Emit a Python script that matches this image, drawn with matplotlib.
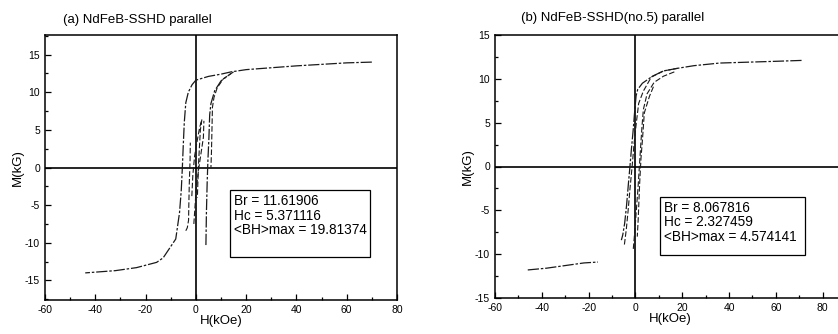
import matplotlib
matplotlib.use("Agg")
import matplotlib.pyplot as plt
from matplotlib.patches import Rectangle
from matplotlib.ticker import MultipleLocator

plt.rcParams['font.family'] = ['Liberation Sans', 'DejaVu Sans']
plt.rcParams['axes.unicode_minus'] = False

# ---------------- Data: panel (a) ----------------
a_title = "(a) NdFeB-SSHD parallel"
a_desc_H = [70, 60, 40, 20, 14, 10, 5, 0, -1.5, -3, -4, -4.6, -5.0, -5.37, -5.8, -6.5, -8, -10.8, -13, -15.6, -23.6, -32, -44]
a_desc_M = [14.0, 13.9, 13.5, 13.0, 12.7, 12.4, 12.1, 11.6, 11.0, 10.0, 8.6, 6.0, 3.0, 0.0, -3.0, -6.0, -9.5, -10.9, -12.0, -12.6, -13.3, -13.7, -14.0]
a_asc_H = [4.0, 4.2, 4.5, 4.8, 5.2, 5.5, 6.0, 7.5, 10, 14]
a_asc_M = [-10.3, -6.0, -2.0, 1.0, 4.0, 7.0, 8.5, 10.2, 11.5, 12.5]
a_loop1_H = [15, 11, 8.5, 7.2, 6.6, 6.4, 6.2, 6.0]
a_loop1_M = [12.7, 11.8, 10.6, 9.3, 8.0, 5.0, 2.0, 0.0]
a_loop2_H = [-1.6, -1.2, -0.5, 0.5, 1.5, 2.4, 1.8, 1.3, 1.0, 0.6]
a_loop2_M = [-3.8, -1.0, 1.5, 3.5, 5.3, 6.4, 5.0, 2.0, 0.0, -4.0]
a_loop3_H = [-4.0, -3.4, -2.9, -2.8, -2.6, -2.3, -2.2]
a_loop3_M = [-8.4, -8.0, -7.0, -5.0, -2.0, 1.0, 3.3]
a_loop4_H = [-0.8, -0.5, 0.1, 1.2, 3.0, 3.2]
a_loop4_M = [-7.5, -6.0, -3.0, 0.0, 4.0, 6.2]
a_text = "Br = 11.61906\nHc = 5.371116\n<BH>max = 19.81374"

# ---------------- Data: panel (b) ----------------
b_title = "(b) NdFeB-SSHD(no.5) parallel"
b_desc_H = [71, 60, 48, 36, 25, 18, 12, 7.3, 3.0, 1.0, 0.3, -0.4, -1.0, -1.7, -2.33, -3.0, -3.8, -4.6, -5.4, -6.0]
b_desc_M = [12.1, 12.0, 11.9, 11.8, 11.5, 11.2, 10.9, 10.3, 9.5, 8.8, 8.07, 6.0, 4.0, 2.0, 0.0, -2.0, -4.5, -6.5, -7.8, -8.4]
b_low_H = [-46, -38, -30, -22, -16]
b_low_M = [-11.8, -11.6, -11.3, -11.0, -10.9]
b_asc1_H = [-0.9, -0.3, 0.4, 1.1, 1.7, 2.3, 2.8, 3.4, 5.0, 8.0, 12.0, 16.7]
b_asc1_M = [-9.4, -7.5, -5.0, -2.5, 0.0, 2.5, 4.5, 6.5, 8.3, 9.6, 10.3, 10.8]
b_asc2_H = [-4.7, -3.9, -3.1, -2.3, -1.4, -0.6, 0.4, 1.4, 3.4, 6.8, 12, 18]
b_asc2_M = [-8.9, -7.2, -5.0, -2.5, 0.0, 2.5, 5.0, 7.2, 8.6, 10.2, 10.9, 11.2]
b_loop_H = [7.7, 6.0, 4.6, 3.8, 3.0, 2.4, 1.8, 1.2, 0.8]
b_loop_M = [9.1, 8.0, 6.8, 6.1, 3.0, 1.0, -2.0, -6.0, -8.0]
b_text = "Br = 8.067816\nHc = 2.327459\n<BH>max = 4.574141"

xlabel = "H(kOe)"
ylabel = "M(kG)"

fig = plt.figure(figsize=(8.38, 3.34), dpi=100)

ls_main = (0, (9, 1.5, 2, 1.5))
ls_dash = (0, (5, 2))
col = '#1a1a1a'


def setup(ax, xlim, ylim, ymaj):
    ax.set_xlim(*xlim)
    ax.set_ylim(*ylim)
    ax.xaxis.set_major_locator(MultipleLocator(20))
    ax.xaxis.set_minor_locator(MultipleLocator(10))
    ax.yaxis.set_major_locator(MultipleLocator(ymaj))
    ax.yaxis.set_minor_locator(MultipleLocator(ymaj / 2))
    ax.tick_params(which='both', direction='in', labelsize=7.5, width=0.9)
    ax.tick_params(axis='x', pad=3.5)
    ax.tick_params(axis='y', pad=3.5)
    ax.tick_params(which='major', length=4)
    ax.tick_params(which='minor', length=2)
    for s in ax.spines.values():
        s.set_linewidth(1.1)
    ax.axhline(0, color='black', lw=1.2, zorder=1)
    ax.axvline(0, color='black', lw=1.2, zorder=1)
    ax.set_xlabel(xlabel, fontsize=9.5, labelpad=0)
    ax.set_ylabel(ylabel, fontsize=9.5, labelpad=1)


# Panel (a)
axa = fig.add_axes([45 / 838, 1 - 300 / 334, 352 / 838, 265 / 334])
setup(axa, (-60, 80), (-17.6, 17.6), 5)
axa.plot(a_desc_H, a_desc_M, color=col, lw=0.9, ls=ls_main)
axa.plot(a_asc_H, a_asc_M, color=col, lw=0.9, ls=ls_main)
axa.plot(a_loop1_H, a_loop1_M, color=col, lw=0.8, ls=ls_dash)
axa.plot(a_loop2_H, a_loop2_M, color=col, lw=0.8, ls=ls_dash)
axa.plot(a_loop3_H, a_loop3_M, color=col, lw=0.8, ls=ls_dash)
axa.plot(a_loop4_H, a_loop4_M, color=col, lw=0.8, ls=ls_dash)
fig.text(63 / 838, 1 - 20 / 334, a_title, fontsize=9.5, va='center', ha='left')
axa.add_patch(Rectangle((0.526, 0.162), 0.397, 0.253, transform=axa.transAxes,
                        fill=True, facecolor='white', edgecolor='black', lw=0.9, zorder=3))
axa.text(0.537, 0.40, a_text, transform=axa.transAxes, fontsize=9.8,
         va='top', ha='left', linespacing=1.05, zorder=4)

# Panel (b)
axb = fig.add_axes([495 / 838, 1 - 298 / 334, 351 / 838, 263 / 334])
setup(axb, (-60, 90), (-15, 15), 5)
axb.plot(b_desc_H, b_desc_M, color=col, lw=0.9, ls=ls_main)
axb.plot(b_low_H, b_low_M, color=col, lw=0.9, ls=ls_main)
axb.plot(b_asc1_H, b_asc1_M, color=col, lw=0.8, ls=ls_dash)
axb.plot(b_asc2_H, b_asc2_M, color=col, lw=0.8, ls=ls_dash)
axb.plot(b_loop_H, b_loop_M, color=col, lw=0.8, ls=ls_dash)
fig.text(521 / 838, 1 - 18 / 334, b_title, fontsize=9.5, va='center', ha='left')
axb.add_patch(Rectangle((0.470, 0.163), 0.413, 0.221, transform=axb.transAxes,
                        fill=True, facecolor='white', edgecolor='black', lw=0.9, zorder=3))
axb.text(0.482, 0.37, b_text, transform=axb.transAxes, fontsize=9.8,
         va='top', ha='left', linespacing=1.05, zorder=4)

fig.savefig("out.png", dpi=100)
